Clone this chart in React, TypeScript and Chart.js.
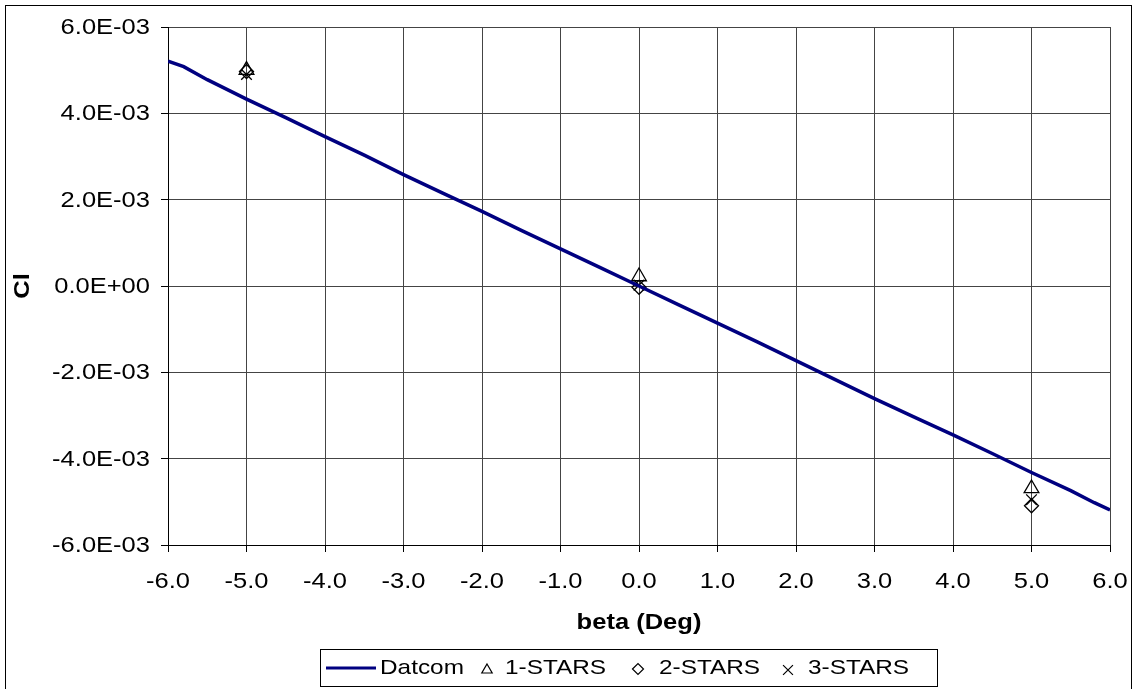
import React, { useEffect, useRef } from 'react';
import { Chart, registerables } from 'chart.js';
Chart.register(...registerables);

// ---- data ----
const datcomBeta = [-6, -5.8, -5.5, -5, -4.5, -4, -3.5, -3, -2.5, -2, -1.5, -1, -0.5, 0, 0.5, 1, 1.5, 2, 2.5, 3, 3.5, 4, 4.5, 5, 5.5, 5.8, 6];
const datcomCl = [5.21e-3, 5.08e-3, 4.78e-3, 4.33e-3, 3.9e-3, 3.46e-3, 3.03e-3, 2.58e-3, 2.15e-3, 1.73e-3, 1.29e-3, 0.86e-3, 0.43e-3, 0, -0.43e-3, -0.86e-3, -1.29e-3, -1.73e-3, -2.17e-3, -2.61e-3, -3.03e-3, -3.45e-3, -3.88e-3, -4.32e-3, -4.74e-3, -5.02e-3, -5.19e-3];
const starsBeta = [-5, 0, 5];
const stars1Cl = [5.0e-3, 0.22e-3, -4.69e-3];
const stars2Cl = [4.97e-3, -0.03e-3, -5.09e-3];
const stars3Cl = [4.9e-3, 0.02e-3, -4.95e-3];
const xTicks = [-6, -5, -4, -3, -2, -1, 0, 1, 2, 3, 4, 5, 6];
const yTicks = [-6e-3, -4e-3, -2e-3, 0, 2e-3, 4e-3, 6e-3];
const seriesNames = ['Datcom', '1-STARS', '2-STARS', '3-STARS'];
const xTitle = 'beta (Deg)';
const yTitle = 'Cl';

const NAVY = '#000080';
const SX = 1.16;
const FONT_FAMILY = '"Liberation Sans", Arial, sans-serif';

function fmtY(v: number): string {
  const s = v.toExponential(1);
  const m = s.match(/^(-?[\d.]+)e([+-])(\d+)$/);
  if (!m) return s;
  return `${m[1]}E${m[2]}${m[3].padStart(2, '0')}`;
}

function drawText(ctx: CanvasRenderingContext2D, text: string, x: number, y: number, align: CanvasTextAlign, font: string, rot = 0) {
  ctx.save();
  ctx.translate(x, y);
  if (rot) ctx.rotate(rot);
  ctx.scale(SX, 1);
  ctx.font = font;
  ctx.textAlign = align;
  ctx.textBaseline = 'middle';
  ctx.fillStyle = '#000';
  ctx.fillText(text, 0, 0);
  ctx.restore();
}

function sym(ctx: CanvasRenderingContext2D, kind: string, x: number, y: number, r: number) {
  ctx.save();
  ctx.strokeStyle = '#000';
  ctx.lineWidth = 1.2;
  ctx.beginPath();
  if (kind === 'triangle') {
    ctx.moveTo(x, y - r);
    ctx.lineTo(x + r * 0.866, y + r * 0.5);
    ctx.lineTo(x - r * 0.866, y + r * 0.5);
    ctx.closePath();
  } else if (kind === 'diamond') {
    ctx.moveTo(x - r, y);
    ctx.lineTo(x, y - r);
    ctx.lineTo(x + r, y);
    ctx.lineTo(x, y + r);
    ctx.closePath();
  } else {
    const d = r * 0.707;
    ctx.moveTo(x - d, y - d);
    ctx.lineTo(x + d, y + d);
    ctx.moveTo(x + d, y - d);
    ctx.lineTo(x - d, y + d);
  }
  ctx.stroke();
  ctx.restore();
}

const textPlugin = {
  id: 'customText',
  afterDraw(chart: any) {
    const ctx: CanvasRenderingContext2D = chart.ctx;
    const xs = chart.scales.x;
    const ys = chart.scales.y;
    const f = `22px ${FONT_FAMILY}`;
    const fb = `bold 22px ${FONT_FAMILY}`;
    yTicks.forEach((v) => drawText(ctx, fmtY(v), 150, ys.getPixelForValue(v) + 1, 'right', f));
    xTicks.forEach((v) => drawText(ctx, v.toFixed(1), xs.getPixelForValue(v), 582, 'center', f));
    drawText(ctx, xTitle, (xs.left + xs.right) / 2, 623, 'center', fb);
    drawText(ctx, yTitle, 23, (ys.top + ys.bottom) / 2, 'center', fb, -Math.PI / 2);

    // legend
    ctx.save();
    ctx.strokeStyle = '#000';
    ctx.lineWidth = 1;
    ctx.strokeRect(320.5, 649.5, 617, 37);
    ctx.strokeStyle = NAVY;
    ctx.lineWidth = 3;
    ctx.beginPath();
    ctx.moveTo(326, 668);
    ctx.lineTo(376, 668);
    ctx.stroke();
    ctx.restore();
    const lf = `21px ${FONT_FAMILY}`;
    drawText(ctx, seriesNames[0], 380, 668, 'left', lf);
    sym(ctx, 'triangle', 487, 670, 6);
    drawText(ctx, seriesNames[1], 505, 668, 'left', lf);
    sym(ctx, 'diamond', 638, 669, 5.5);
    drawText(ctx, seriesNames[2], 659, 668, 'left', lf);
    sym(ctx, 'cross', 788, 670, 7);
    drawText(ctx, seriesNames[3], 808, 668, 'left', lf);

    // outer border
    ctx.save();
    ctx.strokeStyle = '#000';
    ctx.lineWidth = 1;
    ctx.strokeRect(5.5, 5.5, 1126, 720);
    ctx.restore();
  },
};

export default function App() {
  const ref = useRef<HTMLCanvasElement | null>(null);
  useEffect(() => {
    if (!ref.current) return;
    const chart = new Chart(ref.current, {
      type: 'scatter',
      data: {
        datasets: [
          {
            label: seriesNames[0],
            type: 'line',
            data: datcomBeta.map((x, i) => ({ x, y: datcomCl[i] })),
            borderColor: NAVY,
            borderWidth: 3.5,
            pointRadius: 0,
            tension: 0,
            fill: false,
          } as any,
          {
            label: seriesNames[1],
            data: starsBeta.map((x, i) => ({ x, y: stars1Cl[i] })),
            pointStyle: 'triangle',
            pointRadius: 8.5,
            borderColor: '#000',
            backgroundColor: 'rgba(0,0,0,0)',
            borderWidth: 1.3,
          },
          {
            label: seriesNames[2],
            data: starsBeta.map((x, i) => ({ x, y: stars2Cl[i] })),
            pointStyle: 'rectRot',
            pointRadius: 7,
            borderColor: '#000',
            backgroundColor: 'rgba(0,0,0,0)',
            borderWidth: 1.3,
          },
          {
            label: seriesNames[3],
            data: starsBeta.map((x, i) => ({ x, y: stars3Cl[i] })),
            pointStyle: 'crossRot',
            pointRadius: 7.5,
            borderColor: '#000',
            backgroundColor: 'rgba(0,0,0,0)',
            borderWidth: 1.3,
          },
        ],
      },
      options: {
        animation: false,
        responsive: false,
        layout: { padding: { left: 161, top: 27, right: 28, bottom: 137 } },
        plugins: { legend: { display: false }, tooltip: { enabled: false } },
        scales: {
          x: {
            type: 'linear',
            min: -6,
            max: 6,
            afterBuildTicks: (s: any) => {
              s.ticks = xTicks.map((v) => ({ value: v }));
            },
            ticks: { display: false },
            grid: { color: '#444', lineWidth: 1, tickLength: 7, tickColor: '#000', drawTicks: true },
            border: { display: true, color: '#000', width: 1 },
          },
          y: {
            type: 'linear',
            min: -6e-3,
            max: 6e-3,
            afterBuildTicks: (s: any) => {
              s.ticks = yTicks.map((v) => ({ value: v }));
            },
            ticks: { display: false },
            grid: { color: '#444', lineWidth: 1, tickLength: 7, tickColor: '#000', drawTicks: true },
            border: { display: true, color: '#000', width: 1 },
          },
        },
      },
      plugins: [textPlugin],
    });
    return () => chart.destroy();
  }, []);
  return (
    <div style={{ position: 'absolute', left: 0, top: 0, width: 1138, height: 689, background: '#fff' }}>
      <canvas ref={ref} width={1138} height={689} style={{ display: 'block' }} />
    </div>
  );
}
